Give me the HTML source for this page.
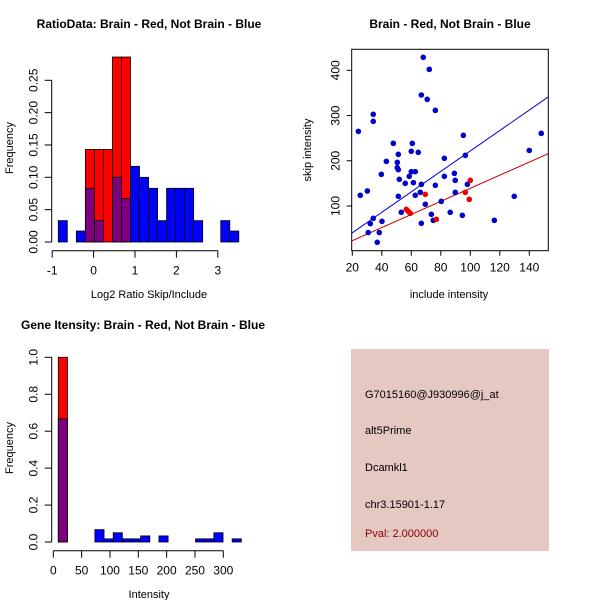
<!DOCTYPE html>
<html><head><meta charset="utf-8"><style>
body{margin:0;background:#fff;}
svg{display:block;font-family:"Liberation Sans",sans-serif;}
</style></head><body>
<svg id="c" width="600" height="600" xmlns="http://www.w3.org/2000/svg">
<rect width="600" height="600" fill="#fff"/>
<g id="p1"></g>
<g id="p2"></g>
<g id="p3"></g>
<g>
<rect x="351" y="349" width="198" height="202" fill="#E5C8C2"/>
<text x="365" y="398" font-size="11" fill="#000">G7015160@J930996@j_at</text>
<text x="365" y="434" font-size="11" fill="#000">alt5Prime</text>
<text x="365" y="471" font-size="11" fill="#000">Dcamkl1</text>
<text x="365" y="508" font-size="11" fill="#000">chr3.15901-1.17</text>
<text x="365" y="537" font-size="11" fill="#8B0000">Pval: 2.000000</text>
</g>
</svg>
<script>
// Panel 1 data
const ratioBinStart = -0.853, ratioBinWidth = 0.218;
const ratioBlue = [0.033,0,0.017,0.083,0.033,0,0.10,0.067,0.117,0.10,0.083,0.033,0.083,0.083,0.083,0.033,0,0,0.033,0.017];
const ratioRed  = [0,0,0,0.143,0.143,0.143,0.286,0.286,0,0,0,0,0,0,0,0,0,0,0,0];
const ratioXTicks = [-1,0,1,2,3];
const ratioYTicks = [0,0.05,0.10,0.15,0.20,0.25];
const ratioYLabels = ["0.00","0.05","0.10","0.15","0.20","0.25"];
// Panel 2 data
const blueX = [24.1,25.4,30.2,30.8,32.2,34.2,34.2,34.2,36.9,38.3,39.7,40.1,43.1,47.8,50.5,50.5,51.2,51.2,51.2,51.9,53.2,55.9,58.6,60,60,60.7,61.4,62.7,62.7,64.7,66.1,66.8,66.8,68.1,69.5,70.8,72.2,73.6,74.9,76.3,76.3,80.3,82.4,82.4,86.4,89.2,89.8,89.8,94.6,95.3,96.6,98,116.3,129.8,140,148.1,66.8];
const blueY = [265,123.6,133.2,41.3,61,72.7,302.7,287.2,19.7,41.3,170,66.1,198.7,238.5,196.5,184.7,214.2,180.3,121.4,159,86,150.1,165.6,175.9,220.9,238.5,151.6,175.9,123.6,218.6,130.2,147.9,345.4,428.7,103.7,335.8,402.1,81.6,68.3,145.7,311.5,110.3,205.4,165.6,86,172.2,156.7,130.2,79.4,256.2,212,147.9,68.3,121.4,223,260.6,61.7];
const redX = [56.6,58,59.3,69.5,77,96.6,99.3,100];
const redY = [92.6,88.2,83.8,125.8,70.5,130.2,114.7,156.7];
const fitIntercepts = [-4.5,-5.6];
const fitSlopes = [2.262,1.448];
const fitColors = ["#0000CD","#CD0000"];
const scXTicks = [20,40,60,80,100,120,140];
const scYTicks = [100,200,300,400];
// Panel 3 data
const intBinStart = 8.8, intBinWidth = 16.15;
const intBlue = [0.667,0,0,0,0.067,0.017,0.05,0.017,0.017,0.033,0,0.033,0,0,0,0.017,0.017,0.05,0,0.017];
const intRed  = [1.0,0,0,0,0,0,0,0,0,0,0,0,0,0,0,0,0,0,0,0];
const intXTicks = [0,50,100,150,200,250,300];
const intYTicks = [0,0.2,0.4,0.6,0.8,1.0];
const intYLabels = ["0.0","0.2","0.4","0.6","0.8","1.0"];

const NS="http://www.w3.org/2000/svg";
function mk(parent,tag,attrs,txt){const e=document.createElementNS(NS,tag);for(const k in attrs)e.setAttribute(k,attrs[k]);if(txt!==undefined)e.textContent=txt;parent.appendChild(e);return e;}

function hist(g,o){
  const sx=v=>o.x0+(v-o.d0)*o.kx, sy=v=>o.y0-v*o.ky;
  for(let i=0;i<o.blue.length;i++){
    const a=o.start+i*o.w,b=a+o.w,bl=o.blue[i],rd=o.red[i];
    const top=Math.max(bl,rd); if(top<=0)continue;
    if(rd>0){const r=mk(g,'rect',{x:sx(a),y:sy(rd),width:sx(b)-sx(a),height:sy(0)-sy(rd),fill:'#FF0000',stroke:'#000','stroke-width':0.8});
      
      }
    if(bl>0){const both=rd>0;const r=mk(g,'rect',{x:sx(a),y:sy(bl),width:sx(b)-sx(a),height:sy(0)-sy(bl),fill:both?'#7F007F':'#0000FF',stroke:'#000','stroke-width':0.8});
      
      }
  }
  // x axis
  const ax=mk(g,'line',{x1:sx(o.xt[0]),x2:sx(o.xt[o.xt.length-1]),y1:o.axY,y2:o.axY,stroke:'#000'});
  
  
  o.xt.forEach(t=>{mk(g,'line',{x1:sx(t),x2:sx(t),y1:o.axY,y2:o.axY+7,stroke:'#000'});
    const l=mk(g,'text',{x:sx(t),y:o.axY+24,'font-size':12,'text-anchor':'middle'},String(t));
    
    });
  const ay=mk(g,'line',{x1:o.axX,x2:o.axX,y1:sy(o.yt[0]),y2:sy(o.yt[o.yt.length-1]),stroke:'#000'});
  
  
  o.yt.forEach((t,i)=>{mk(g,'line',{x1:o.axX-7,x2:o.axX,y1:sy(t),y2:sy(t),stroke:'#000'});
    const l=mk(g,'text',{x:o.axX-14,y:sy(t),'font-size':12,'text-anchor':'middle',transform:`rotate(-90 ${o.axX-14} ${sy(t)})`},o.yl[i]);
    
    });
}
function labels(g,title,tx,ty,xl,xlx,xly,yl,ylx,yly){
  const t=mk(g,'text',{x:tx,y:ty,'font-size':12,'font-weight':'bold','text-anchor':'middle'},title);
  
  
  const a=mk(g,'text',{x:xlx,y:xly,'font-size':11,'text-anchor':'middle'},xl);
  
  
  const b=mk(g,'text',{x:ylx,y:yly,'font-size':11,'text-anchor':'middle',transform:`rotate(-90 ${ylx} ${yly})`},yl);
  
  
}
const p1=document.getElementById('p1');
hist(p1,{x0:93.6,d0:0,kx:41.4,y0:242,ky:646.8,start:ratioBinStart,w:ratioBinWidth,blue:ratioBlue,red:ratioRed,xt:ratioXTicks,yt:ratioYTicks,yl:ratioYLabels,axY:250.7,axX:51.7});
labels(p1,"RatioData: Brain - Red, Not Brain - Blue",149,28,"Log2 Ratio Skip/Include",149,298,"Frequency",13,148);

const p3=document.getElementById('p3');
hist(p3,{x0:53.3,d0:0,kx:0.5667,y0:542,ky:184.7,start:intBinStart,w:intBinWidth,blue:intBlue,red:intRed,xt:intXTicks,yt:intYTicks,yl:intYLabels,axY:550.7,axX:51.7});
labels(p3,"Gene Itensity: Brain - Red, Not Brain - Blue",143,329,"Intensity",149,598,"Frequency",13,448);

// scatter
const p2=document.getElementById('p2');
const L=351.7,R=548.3,T=49.3,B=250.7;
const sx=v=>352.3+(v-20)*1.475, sy=v=>206-(v-100)*0.4523;
const cp=mk(p2,'clipPath',{id:'clipsc'});mk(cp,'rect',{x:L,y:T,width:R-L,height:B-T});
fitIntercepts.forEach((a,i)=>{const xa=15,xb=160;
  const ln=mk(p2,'line',{x1:sx(xa),y1:sy(a+fitSlopes[i]*xa),x2:sx(xb),y2:sy(a+fitSlopes[i]*xb),stroke:fitColors[i],'stroke-width':1,'clip-path':'url(#clipsc)'});
  
  });
blueX.forEach((x,i)=>{const c=mk(p2,'circle',{cx:sx(x),cy:sy(blueY[i]),r:2.8,fill:'#0000CD'});
  
  });
redX.forEach((x,i)=>{const c=mk(p2,'circle',{cx:sx(x),cy:sy(redY[i]),r:2.8,fill:'#EE0000'});
  
  });
const box=mk(p2,'rect',{x:L,y:T,width:R-L,height:B-T,fill:'none',stroke:'#000'});


scXTicks.forEach(t=>{mk(p2,'line',{x1:sx(t),x2:sx(t),y1:B,y2:B+5,stroke:'#000'});
  const l=mk(p2,'text',{x:sx(t),y:B+21,'font-size':12,'text-anchor':'middle'},String(t));
  
  });
scYTicks.forEach(t=>{mk(p2,'line',{x1:L-5,x2:L,y1:sy(t),y2:sy(t),stroke:'#000'});
  const l=mk(p2,'text',{x:L-12,y:sy(t),'font-size':12,'text-anchor':'middle',transform:`rotate(-90 ${L-12} ${sy(t)})`},String(t));
  
  });
labels(p2,"Brain - Red, Not Brain - Blue",450,28,"include intensity",449,298,"skip intensity",311,150);
</script>
</body></html>
